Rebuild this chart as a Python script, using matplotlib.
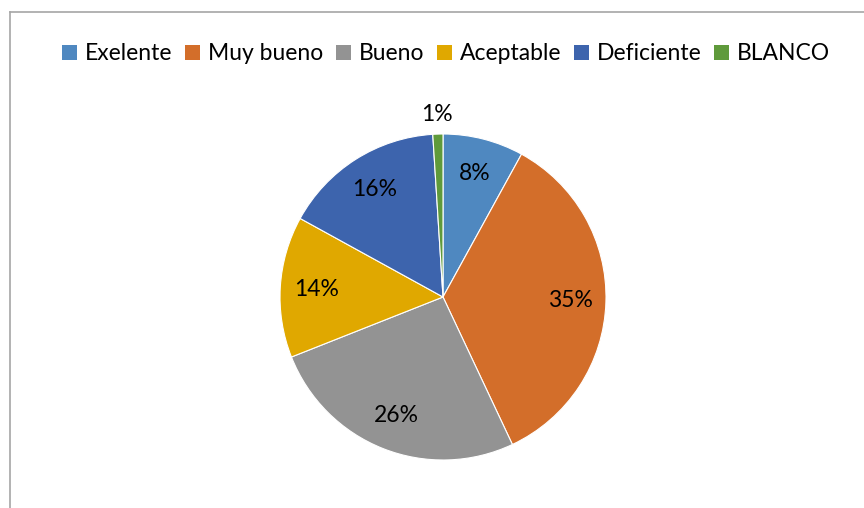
import numpy as np
import matplotlib.pyplot as plt
from matplotlib.patches import Patch
from matplotlib.lines import Line2D

labels = ['Exelente', 'Muy bueno', 'Bueno', 'Aceptable', 'Deficiente', 'BLANCO']
values = [8, 35, 26, 14, 16, 1]
colors = ['#4F88C0', '#D36E2A', '#939393', '#E0A800', '#3D64AD', '#5F9A3B']

plt.rcParams['font.family'] = ['Lato', 'DejaVu Sans']

W, H = 864, 508
cx, cy, R = 443., 297., 163.

fig = plt.figure(figsize=(W/100., H/100.), dpi=100)
ax = fig.add_axes([0, 0, 1, 1])

wedges, texts = ax.pie(values, colors=colors, startangle=90, counterclock=False,
                       radius=1, wedgeprops=dict(edgecolor='white', linewidth=0.8))

# percentage labels, small slice goes outside
tot = float(sum(values))
ang = 90.
for v in values:
    mid = np.deg2rad(ang - v/tot*360./2)
    r = 1.12 if v/tot < 0.03 else 0.78
    ax.text(r*np.cos(mid), r*np.sin(mid), '%d%%' % round(v/tot*100),
            ha='center', va='center', fontsize=16.5, color='black')
    ang -= v/tot*360.

ax.set_xlim(-cx/R, (W-cx)/R)
ax.set_ylim(-(H-cy)/R, cy/R)
ax.set_aspect('auto')
ax.axis('off')

# chart border (top + left)
fig.add_artist(Line2D([10/W, 1], [1-12/H, 1-12/H], color='#a6a6a6', lw=1.2))
fig.add_artist(Line2D([10/W, 10/W], [0, 1-12/H], color='#a6a6a6', lw=1.2))

handles = [Patch(facecolor=c, edgecolor='none') for c in colors]
fig.legend(handles, labels, loc='center', bbox_to_anchor=(446/W, 1-54/H), ncol=6,
           frameon=False, fontsize=16.5, handlelength=0.65, handleheight=0.65,
           handletextpad=0.35, columnspacing=0.55)

fig.savefig('out.png', dpi=100)
